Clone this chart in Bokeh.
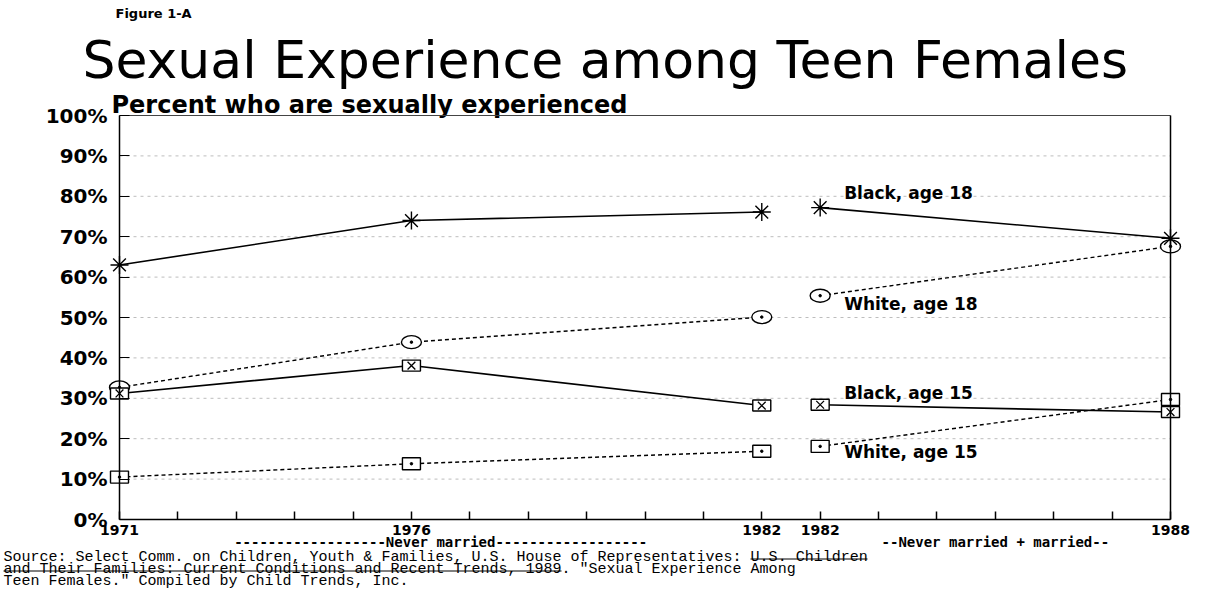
from bokeh.plotting import figure
from bokeh.models import FixedTicker, Range1d, LinearAxis
from bokeh.core.properties import value
from bokeh.embed import file_html
from bokeh.resources import INLINE

# ---------------- data ----------------
years_never_married = [1971, 1976, 1982]
years_all_women = [1982, 1988]

black18_never_married = [63.0, 74.0, 76.1]
black18_all_women = [77.2, 69.6]
white18_never_married = [32.7, 43.9, 50.1]
white18_all_women = [55.4, 67.6]
black15_never_married = [31.2, 38.1, 28.2]
black15_all_women = [28.4, 26.6]
white15_never_married = [10.5, 13.8, 16.9]
white15_all_women = [18.1, 29.7]

y_ticks = [0, 10, 20, 30, 40, 50, 60, 70, 80, 90, 100]
series_names = ["Black, age 18", "White, age 18", "Black, age 15", "White, age 15"]

title_text = "Sexual Experience among Teen Females"
figure_label = "Figure 1-A"
subtitle_text = "Percent who are sexually experienced"
group_never = "-" * 18 + "Never married" + "-" * 18
group_all = "--Never married + married--"
source_lines = [
    "Source: Select Comm. on Children, Youth & Families, U.S. House of Representatives: U.S. Children",
    "and Their Families: Current Conditions and Recent Trends, 1989.  \"Sexual Experience Among",
    "Teen Females.\"  Compiled by Child Trends, Inc.",
]

# axis slots: one slot per year, the 1982 survey of all women gets its own slot
def slot_nm(y):
    return y - years_never_married[0]

def slot_all(y):
    return y - years_never_married[0] + 1

xs_nm = [slot_nm(y) for y in years_never_married]
xs_all = [slot_all(y) for y in years_all_women]
n_slots = xs_all[-1]

x_labels = {i: "" for i in range(n_slots + 1)}
for y in years_never_married:
    x_labels[slot_nm(y)] = str(y)
for y in years_all_women:
    x_labels[slot_all(y)] = str(y)

# ---------------- layout (pixels) ----------------
W, H = 1195, 588
PL, PR, PT, PB = 119, 1170, 115, 519     # plot area box on the canvas
pxx = (PR - PL) / n_slots
pxy = (PB - PT) / 100


def X(px):  # canvas pixel column -> x data
    return (px - PL) / pxx


def Y(py):  # canvas pixel row -> y data
    return (PB - py) / pxy


p = figure(width=W, height=H, x_range=Range1d(X(0), X(W)), y_range=Range1d(Y(H), Y(0)),
           output_backend="svg", toolbar_location=None, title=None, min_border=0)
p.background_fill_color = "white"
p.border_fill_color = "white"
p.outline_line_color = None
p.grid.visible = False

# bottom axis at 0%
p.xaxis.fixed_location = 0
p.xaxis.bounds = (0, n_slots)
p.xaxis.ticker = FixedTicker(ticks=list(range(n_slots + 1)))
p.xaxis.major_label_overrides = x_labels
p.xaxis.major_tick_in = 8
p.xaxis.major_tick_out = 0
p.xaxis.minor_tick_line_color = None
p.xaxis.axis_line_width = 1.5
p.xaxis.major_tick_line_width = 1.5
p.xaxis.major_label_standoff = 5
p.xaxis.major_label_text_font = "DejaVu Sans"
p.xaxis.major_label_text_font_style = "bold"
p.xaxis.major_label_text_font_size = "14px"
p.xaxis.major_label_text_color = "black"

# left axis at the first slot
p.yaxis.fixed_location = 0
p.yaxis.bounds = (0, 100)
p.yaxis.ticker = FixedTicker(ticks=y_ticks)
p.yaxis.major_label_overrides = {v: f"{v}%" for v in y_ticks}
p.yaxis.major_tick_in = 10
p.yaxis.major_tick_out = 0
p.yaxis.minor_tick_line_color = None
p.yaxis.axis_line_width = 1.5
p.yaxis.major_tick_line_width = 1.2
p.yaxis.major_label_standoff = 12
p.yaxis.major_label_text_font = "DejaVu Sans"
p.yaxis.major_label_text_font_style = "bold"
p.yaxis.major_label_text_font_size = "20px"
p.yaxis.major_label_text_color = "black"

# right and top frame lines
p.add_layout(LinearAxis(fixed_location=n_slots, bounds=(0, 100), ticker=FixedTicker(ticks=[]),
                        axis_line_color="black", axis_line_width=1.5,
                        major_tick_line_color=None, minor_tick_line_color=None), "right")
p.add_layout(LinearAxis(fixed_location=100, bounds=(0, n_slots), ticker=FixedTicker(ticks=[]),
                        axis_line_color="#444444", axis_line_width=1.2,
                        major_tick_line_color=None, minor_tick_line_color=None), "above")

# horizontal grid lines at the inner y ticks
grid_levels = y_ticks[1:-1]
p.segment(x0=[0] * len(grid_levels), y0=grid_levels, x1=[n_slots] * len(grid_levels),
          y1=grid_levels, line_color="#bdbdbd", line_dash="3 4", line_width=1)

# ---------------- series ----------------
for xs, ys in [(xs_nm, black18_never_married), (xs_all, black18_all_women),
               (xs_nm, black15_never_married), (xs_all, black15_all_women)]:
    p.line(xs, ys, line_color="black", line_width=1.6)
for xs, ys in [(xs_nm, white18_never_married), (xs_all, white18_all_women),
               (xs_nm, white15_never_married), (xs_all, white15_all_women)]:
    p.line(xs, ys, line_color="black", line_width=1.4, line_dash="4 3")

for xs, ys in [(xs_nm, white18_never_married), (xs_all, white18_all_women)]:
    p.ellipse(x=xs, y=ys, width=20, height=13, width_units="screen", height_units="screen",
              fill_color="white", line_color="black", line_width=1.4)
    p.scatter(x=xs, y=ys, marker="circle", size=2.5, fill_color="black", line_color="black")
for xs, ys in [(xs_nm, white15_never_married), (xs_all, white15_all_women)]:
    p.rect(x=xs, y=ys, width=18, height=12, width_units="screen", height_units="screen",
           fill_color="white", line_color="black", line_width=1.4)
    p.scatter(x=xs, y=ys, marker="circle", size=2.5, fill_color="black", line_color="black")
for xs, ys in [(xs_nm, black15_never_married), (xs_all, black15_all_women)]:
    p.rect(x=xs, y=ys, width=18, height=11, width_units="screen", height_units="screen",
           fill_color="white", line_color="black", line_width=1.4)
    p.scatter(x=xs, y=ys, marker="x", size=11, line_color="black", line_width=1.3)
for xs, ys in [(xs_nm, black18_never_married), (xs_all, black18_all_women)]:
    p.scatter(x=xs, y=ys, marker="asterisk", size=18, line_color="black", line_width=1.4)

# series labels next to the 1982 (all women) points
label_dy = [-15, 8, -12, 6]  # pixels below (+) / above (-) the point
label_vals = [black18_all_women[0], white18_all_women[0], black15_all_women[0],
              white15_all_women[0]]
p.text(x=[xs_all[0] + 24 / pxx] * 4, y=[v - d / pxy for v, d in zip(label_vals, label_dy)],
       text=series_names, text_font=value("DejaVu Sans"), text_font_style="bold",
       text_font_size="17px", text_baseline="middle", text_align="left", text_color="black")

# ---------------- header ----------------
p.text(x=[X(115)], y=[Y(13)], text=[figure_label], text_font=value("DejaVu Sans"),
       text_font_style="bold", text_font_size="13px", text_baseline="alphabetic",
       text_color="black")
p.text(x=[X(82)], y=[Y(59)], text=[title_text], text_font=value("DejaVu Sans"),
       text_font_size="52px", text_baseline="alphabetic", text_color="black")
p.text(x=[X(111)], y=[Y(104)], text=[subtitle_text], text_font=value("DejaVu Sans"),
       text_font_style="bold", text_font_size="24px", text_baseline="alphabetic",
       text_color="black")

# ---------------- group captions under the year labels ----------------
p.text(x=[(xs_nm[0] + xs_nm[-1]) / 2, (xs_all[0] + xs_all[-1]) / 2], y=[Y(541)] * 2,
       text=[group_never, group_all], text_font=value("DejaVu Sans Mono"),
       text_font_style="bold", text_font_size="14px", text_align="center",
       text_baseline="middle", text_color="black")

# ---------------- source ----------------
src_px = 3
src_size = 15
char_w = 0.6 * src_size
baselines = [557, 569, 581]
p.text(x=[X(src_px)] * 3, y=[Y(b) for b in baselines], text=source_lines,
       text_font=value("Liberation Mono"), text_font_size=f"{src_size}px",
       text_baseline="alphabetic", text_color="black")

underlines = [
    (0, source_lines[0].rfind("U.S. Children"), len("U.S. Children")),
    (1, 0, source_lines[1].find("1989") + 4),
]
ux0, ux1, uy = [], [], []
for li, start, n in underlines:
    ux0.append(X(src_px + start * char_w))
    ux1.append(X(src_px + (start + n) * char_w))
    uy.append(Y(baselines[li] + 1.5))
p.segment(x0=ux0, y0=uy, x1=ux1, y1=uy, line_color="black", line_width=1)

open("out.html", "w").write(file_html(p, INLINE))
